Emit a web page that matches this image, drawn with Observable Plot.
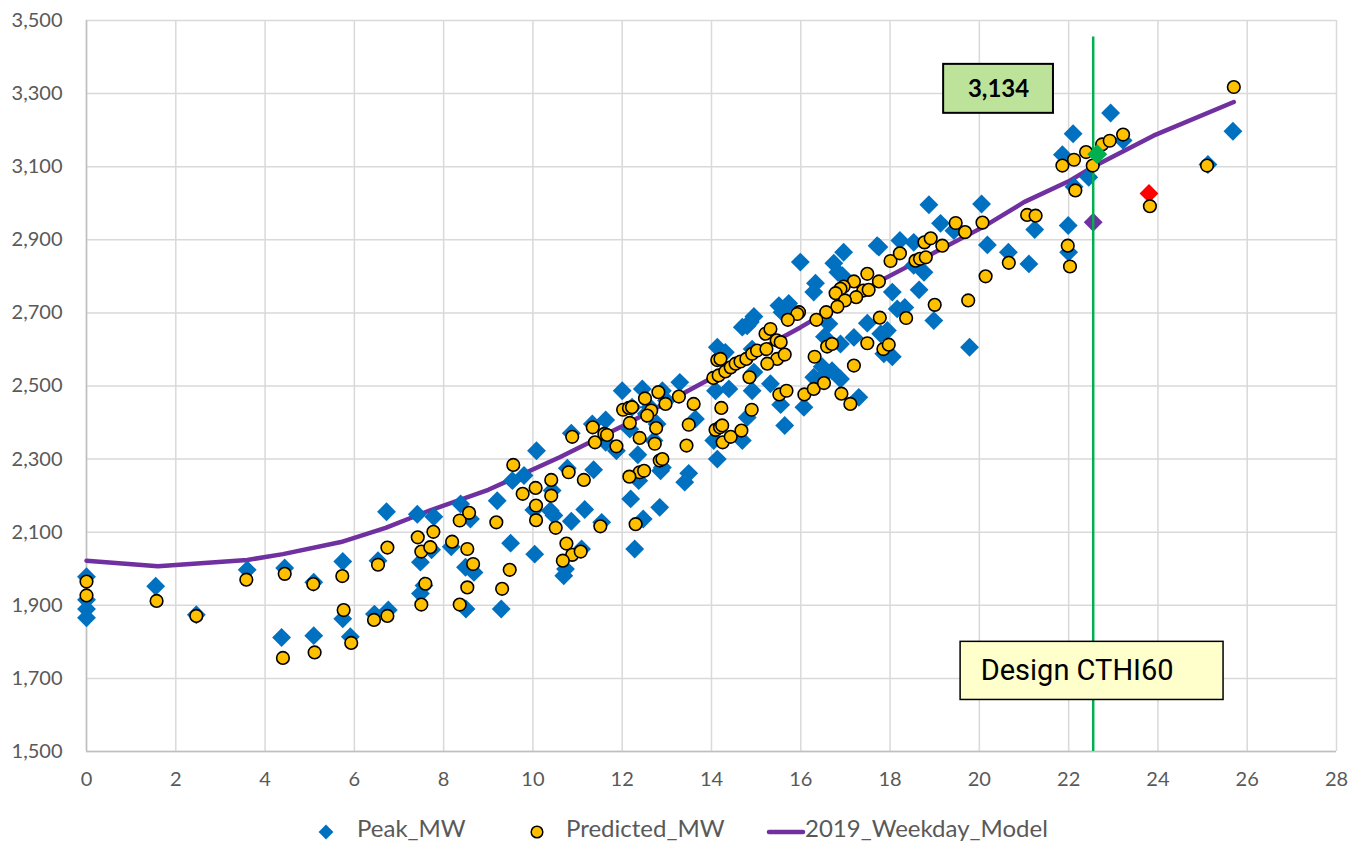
<!DOCTYPE html>
<html>
<head>
<meta charset="utf-8">
<script src="https://cdn.jsdelivr.net/npm/d3@7"></script>
<script src="https://cdn.jsdelivr.net/npm/@observablehq/plot@0.6"></script>
<style>
  html, body { margin: 0; padding: 0; background: #fff; }
  #wrap { position: relative; width: 1349px; height: 844px; font-family: Lato, "Open Sans", sans-serif; }
  #legend { position: absolute; left: 0; top: 812px; width: 1349px; height: 32px; color: #595959; font-size: 24px; }
  #legend .item { position: absolute; top: 2px; line-height: 28px; white-space: nowrap; }
  #legend svg { position: absolute; }
</style>
</head>
<body>
<div id="wrap">
  <div id="chart"></div>
  <div id="legend"></div>
</div>
<script>
// ---------- data ----------
const xTicks = [0, 2, 4, 6, 8, 10, 12, 14, 16, 18, 20, 22, 24, 26, 28];
const yTicks = [1500, 1700, 1900, 2100, 2300, 2500, 2700, 2900, 3100, 3300, 3500];

// Peak_MW (CTHI, MW) – blue diamonds
const peakMW = [
  [0,1978],[0,1915],[0,1890],[0,1866],
  [1.55,1952],[2.46,1874],[3.6,1997],[4.37,1812],[4.44,2002],[5.09,1963],[5.09,1817],
  [5.74,2020],[5.74,1863],[5.91,1814],[6.53,2022],[6.45,1876],[6.76,1887],[6.72,2156],
  [7.41,2149],[7.48,2018],[7.48,1932],[7.56,1954],[7.78,2142],[7.73,2052],[8.17,2060],
  [8.38,2177],[8.6,2136],[8.49,2004],[8.68,1990],[8.5,1890],
  [9.2,2186],[9.5,2070],[9.29,1890],[9.54,2241],[9.8,2255],[10.08,2323],[10.02,2161],
  [10.04,2040],[10.39,2159],[10.43,2214],[10.47,2146],[10.77,2275],[11.36,2271],[11.16,2162],
  [10.86,2130],[11.54,2127],[11.09,2054],[10.73,1999],[10.69,1981],[10.86,2371],[11.33,2396],
  [11.63,2407],[11.63,2346],[11.87,2323],[12.0,2487],
  [12.17,2382],[12.22,2442],[12.35,2312],[12.45,2492],[12.62,2442],[12.54,2424],[12.9,2487],
  [12.99,2460],[12.78,2396],[12.71,2351],[12.86,2268],[12.9,2277],[12.37,2241],[12.19,2191],
  [12.84,2168],[12.47,2136],[12.28,2054],
  [13.29,2510],[13.64,2410],[13.49,2261],[13.4,2237],
  [14.13,2606],[14.31,2592],[14.87,2675],[14.69,2661],[14.39,2492],[14.09,2487],[14.91,2487],
  [14.69,2351],[14.13,2300],[14.05,2351],[14.8,2414],
  [15.99,2839],[16.96,2866],[17.71,2884],[18.22,2898],[16.74,2836],[16.83,2811],[16.93,2802],
  [16.33,2781],[16.29,2757],[16.63,2670],[15.73,2726],[15.51,2720],[15.58,2702],[14.95,2690],
  [14.8,2665],[14.91,2601],[14.95,2538],[15.32,2506],[15.55,2449],[15.64,2392],[16.29,2524],
  [16.48,2553],[16.55,2533],[16.7,2542],[16.89,2519],[17.19,2633],[16.53,2635],[16.89,2615],
  [17.3,2469],[16.07,2442],[17.49,2672],[17.79,2643],[17.86,2588],[18.05,2580],[17.94,2652],
  [18.05,2757],[18.16,2711],
  [18.87,2996],[19.13,2945],[19.43,2925],[20.05,2998],[21.24,2928],[20.18,2886],[20.65,2866],
  [21.11,2834],[19.78,2606],[21.99,2939],[22.0,2866],[21.86,3133],[22.12,3045],[18.53,2893],
  [17.75,2880],[18.76,2811],[18.53,2830],[18.98,2679],[18.65,2763],[18.33,2715],
  [22.94,3247],[22.1,3190],[23.22,3172],[22.45,3071],[25.12,3106],[25.68,3197]
];

// Predicted_MW – yellow circles
const predictedMW = [
  [0,1965],[0,1927],[1.57,1912],[2.46,1871],[3.58,1970],[4.4,1756],[4.44,1986],[5.08,1958],
  [5.11,1771],[5.73,1980],[5.76,1887],[5.93,1797],[6.53,2011],[6.44,1860],[6.74,1871],[6.74,2058],
  [7.42,2086],[7.5,2047],[7.59,1959],[7.5,1902],[7.77,2101],[7.7,2059],[8.19,2074],[8.36,2132],
  [8.57,2153],[8.53,2054],[8.66,2013],[8.53,1949],[8.36,1902],
  [9.18,2127],[9.48,1997],[9.31,1945],[9.56,2284],[9.77,2205],[10.06,2221],[10.07,2173],
  [10.07,2133],[10.41,2243],[10.41,2200],[10.51,2112],[10.8,2264],[11.14,2243],[11.51,2116],
  [10.75,2069],[10.88,2038],[11.07,2047],[10.67,2022],[10.88,2361],[11.34,2387],[11.39,2346],
  [11.6,2369],[11.66,2366],[11.87,2335],[12.02,2435],
  [12.15,2440],[12.22,2442],[12.17,2399],[12.39,2358],[12.51,2466],[12.65,2433],[12.56,2419],
  [12.81,2483],[12.97,2451],[12.76,2385],[12.73,2342],[12.84,2296],[12.9,2300],[12.39,2264],
  [12.49,2268],[12.16,2252],[12.3,2122],
  [13.27,2471],[13.6,2451],[13.49,2394],[13.44,2337],
  [14.13,2571],[14.2,2574],[14.04,2522],[14.16,2529],[14.31,2540],[14.43,2551],[14.54,2561],
  [14.65,2567],[14.78,2574],[14.91,2588],[15.02,2597],[14.85,2524],[14.22,2440],[14.9,2435],
  [14.09,2380],[14.19,2387],[14.24,2392],[14.25,2346],[14.43,2361],[14.67,2378],
  [18.01,2842],[18.22,2863],[17.49,2807],[17.75,2786],[17.19,2786],[16.96,2772],[16.89,2766],
  [16.78,2754],[17.4,2761],[17.52,2763],[17.24,2743],[16.99,2734],[16.82,2717],[16.57,2702],
  [16.35,2681],[15.96,2702],[15.92,2697],[15.71,2681],[15.21,2643],[15.32,2656],[15.46,2625],
  [15.55,2620],[15.23,2601],[15.47,2574],[15.64,2586],[15.25,2561],[15.52,2477],[15.68,2487],
  [16.31,2580],[16.08,2477],[16.29,2492],[16.52,2508],[16.59,2608],[16.7,2615],[16.91,2479],
  [17.11,2451],[17.19,2556],[17.49,2617],[17.77,2687],[17.85,2601],[17.97,2613],
  [19.47,2946],[19.68,2921],[20.07,2947],[21.07,2968],[21.26,2966],[20.66,2837],[20.14,2800],
  [19.75,2734],[21.98,2884],[22.03,2827],[21.86,3103],[22.12,3119],[22.15,3035],[18.77,2893],
  [18.91,2904],[19.17,2884],[18.57,2843],[18.67,2848],[18.8,2852],[19.0,2722],[18.36,2686],
  [22.39,3140],[22.54,3103],[22.75,3161],[22.92,3171],[23.22,3188],[23.82,2992],[25.1,3103],
  [25.7,3318]
];

// 2019_Weekday_Model – purple line
const modelX = [0, 1.6, 3.6, 4.4, 5.7, 6.7, 7.7, 9.0, 10.6, 12.1, 13.9, 15.25, 16.0, 17.8, 20.07, 21.0, 22.0, 22.55, 23.9, 25.7];
const modelY = [2022, 2007, 2024, 2040, 2073, 2112, 2160, 2216, 2305, 2396, 2515, 2611, 2661, 2789, 2934, 3003, 3060, 3100, 3185, 3277];

// Design point markers
const designX = 22.55;
const designPointX = 22.64;
const designValue = 3134;
const designModel = 2948;
const outlier = [[23.8, 3027]];
const designTop = 3455;

// Annotation boxes (data space)
const valueBox = {x1: 19.2, x2: 21.66, y1: 3246, y2: 3380, label: d3.format(",")(designValue)};
const designBox = {x1: 19.58, x2: 25.47, y1: 1641, y2: 1800, label: "Design CTHI60"};

// ---------- chart ----------
const modelLine = modelX.map((x, i) => ({x, y: modelY[i]}));
const fx = d => d[0], fy = d => d[1];

const chart = Plot.plot({
  width: 1349,
  height: 812,
  marginLeft: 86,
  marginRight: 13,
  marginTop: 20,
  marginBottom: 61,
  style: {fontFamily: "Lato, 'Open Sans', sans-serif", fontSize: "20px", color: "#595959", background: "#fff"},
  x: {domain: [0, 28]},
  y: {domain: [1500, 3500]},
  marks: [
    Plot.gridX(xTicks, {stroke: "#d9d9d9", strokeOpacity: 1, strokeWidth: 1.5}),
    Plot.gridY(yTicks, {stroke: "#d9d9d9", strokeOpacity: 1, strokeWidth: 1.5}),
    Plot.ruleY([1500], {stroke: "#bfbfbf", strokeWidth: 1.5}),
    Plot.ruleX([0], {stroke: "#bfbfbf", strokeWidth: 1.5}),
    Plot.axisX(xTicks, {tickSize: 0, tickPadding: 20, tickFormat: d => String(d), fill: "#595959", label: null}),
    Plot.axisY(yTicks, {tickSize: 0, tickPadding: 24, tickFormat: d3.format(","), fill: "#595959", label: null}),
    Plot.line(modelLine, {x: "x", y: "y", stroke: "#7030a0", strokeWidth: 4.5, curve: "linear"}),
    Plot.dot(peakMW, {x: fx, y: fy, symbol: "diamond2", r: 8.5, fill: "#0070c0", stroke: "none"}),
    Plot.dot([[designX, designModel]], {x: fx, y: fy, symbol: "diamond2", r: 8.5, fill: "#7030a0", stroke: "none"}),
    Plot.dot(outlier, {x: fx, y: fy, symbol: "diamond2", r: 8.5, fill: "#ff0000", stroke: "none"}),
    Plot.ruleX([designX], {y1: 1500, y2: designTop, stroke: "#00b050", strokeWidth: 2.5}),
    Plot.dot(predictedMW, {x: fx, y: fy, r: 6.3, fill: "#ffc000", stroke: "#000", strokeWidth: 1.6}),
    Plot.dot([[designPointX, designValue]], {x: fx, y: fy, symbol: "diamond2", r: 9, fill: "#00b050", stroke: "none"}),
    Plot.rect([valueBox], {x1: "x1", x2: "x2", y1: "y1", y2: "y2", fill: "#bde39a", stroke: "#000", strokeWidth: 2}),
    Plot.text([valueBox], {x: d => (d.x1 + d.x2) / 2, y: d => (d.y1 + d.y2) / 2, text: "label", fill: "#000", fontWeight: "bold", fontSize: 24, fontFamily: "Lato, sans-serif"}),
    Plot.rect([designBox], {x1: "x1", x2: "x2", y1: "y1", y2: "y2", fill: "#ffffcc", stroke: "#000", strokeWidth: 1.5}),
    Plot.text([designBox], {x: d => d.x1 + 0.45, y: d => (d.y1 + d.y2) / 2, text: "label", textAnchor: "start", fill: "#000", fontSize: 29, fontFamily: "'Liberation Sans Narrow', Roboto, sans-serif"})
  ]
});
document.getElementById("chart").appendChild(chart);

// ---------- legend ----------
const legendItems = [
  {label: "Peak_MW", kind: "diamond", mx: 326, tx: 357},
  {label: "Predicted_MW", kind: "circle", mx: 537, tx: 566},
  {label: "2019_Weekday_Model", kind: "line", mx: 786, tx: 805}
];
const legend = d3.select("#legend");
const ls = legend.append("svg").attr("width", 1349).attr("height", 32).style("left", "0px").style("top", "0px");
for (const it of legendItems) {
  if (it.kind === "diamond") {
    ls.append("path").attr("d", d3.symbol(d3.symbolDiamond2, 140)()).attr("transform", `translate(${it.mx},20)`).attr("fill", "#0070c0");
  } else if (it.kind === "circle") {
    ls.append("circle").attr("cx", it.mx).attr("cy", 20).attr("r", 5.8).attr("fill", "#ffc000").attr("stroke", "#000").attr("stroke-width", 1.5);
  } else {
    ls.append("line").attr("x1", it.mx - 17).attr("x2", it.mx + 17).attr("y1", 20).attr("y2", 20).attr("stroke", "#7030a0").attr("stroke-width", 4.5).attr("stroke-linecap", "round");
  }
  legend.append("div").attr("class", "item").style("left", it.tx + "px").text(it.label);
}
</script>
</body>
</html>
